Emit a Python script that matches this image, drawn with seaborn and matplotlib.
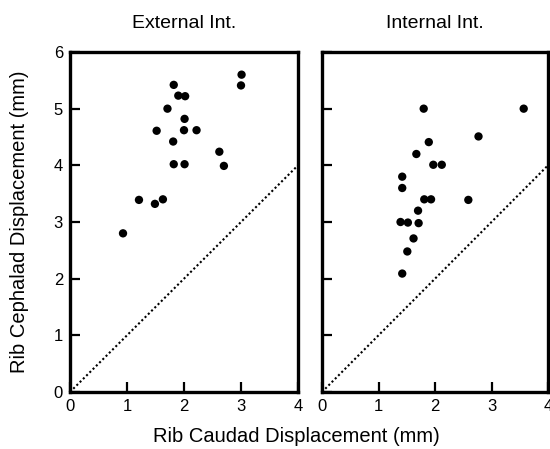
"""
Rib cephalad vs caudad displacement, external / internal intercostals
"""
import matplotlib
matplotlib.use("Agg")
import matplotlib.pyplot as plt
import seaborn as sns
import pandas as pd

# External intercostal points (mm)
ext_caudad = [0.93, 1.21, 1.49, 1.63, 1.52, 1.71, 1.82, 1.90, 2.02, 2.01,
              2.00, 2.22, 1.81, 1.82, 2.01, 2.62, 2.70, 3.01, 3.00]
ext_cephalad = [2.80, 3.39, 3.32, 3.40, 4.61, 5.00, 5.42, 5.23, 5.22, 4.82,
                4.62, 4.62, 4.42, 4.02, 4.02, 4.24, 3.99, 5.60, 5.41]

# Internal intercostal points (mm)
int_caudad = [1.80, 3.57, 2.77, 1.89, 1.67, 1.97, 2.12, 1.42, 1.42, 1.81,
              1.93, 2.59, 1.70, 1.39, 1.52, 1.71, 1.62, 1.51, 1.42]
int_cephalad = [5.00, 5.00, 4.51, 4.41, 4.20, 4.01, 4.01, 3.80, 3.60, 3.40,
                3.40, 3.39, 3.20, 3.00, 2.99, 2.98, 2.71, 2.48, 2.09]

# identity line
diag_x = [0, 4]
diag_y = [0, 4]

panel_titles = ["External Int.", "Internal Int."]
x_ticks = [0, 1, 2, 3, 4]
y_ticks = [0, 1, 2, 3, 4, 5, 6]

sns.set_style("ticks")
plt.rcParams['font.family'] = ['Liberation Sans', 'DejaVu Sans']
plt.rcParams['text.color'] = 'black'
plt.rcParams['xtick.color'] = 'black'
plt.rcParams['ytick.color'] = 'black'

fig = plt.figure(figsize=(5.5, 4.49), dpi=100)
ax_ext = fig.add_axes([70 / 550, 57 / 449, 228 / 550, 340 / 449])
ax_int = fig.add_axes([322 / 550, 57 / 449, 226 / 550, 340 / 449])

panels = [
    (ax_ext, pd.DataFrame({"caudad": ext_caudad, "cephalad": ext_cephalad})),
    (ax_int, pd.DataFrame({"caudad": int_caudad, "cephalad": int_cephalad})),
]

for i, (ax, df) in enumerate(panels):
    sns.lineplot(x=diag_x, y=diag_y, ax=ax, color="black",
                 linestyle=(0, (1, 1.2)), linewidth=1.5)
    sns.scatterplot(data=df, x="caudad", y="cephalad", ax=ax,
                    color="black", s=36, edgecolor="none", zorder=3)
    ax.set_xlim(0, 4)
    ax.set_ylim(0, 6)
    ax.set_xticks(x_ticks)
    ax.set_yticks(y_ticks)
    ax.tick_params(direction="in", length=7, width=1.6, labelsize=12,
                   pad=5, colors="black")
    ax.set_xlabel("")
    ax.set_ylabel("")
    for sp in ax.spines.values():
        sp.set_visible(True)
        sp.set_linewidth(2.4)
        sp.set_color("black")
    ax.set_title(panel_titles[i], fontsize=14, pad=17, color="black")
    if i == 1:
        ax.set_yticklabels([])

fig.text(20 / 550, 1 - 222 / 449, "Rib Cephalad Displacement (mm)",
         rotation=90, ha="center", va="center", fontsize=14.5, color="black")
fig.text(296 / 550, 1 - 437 / 449, "Rib Caudad Displacement (mm)",
         ha="center", va="center", fontsize=14.5, color="black")

fig.savefig("out.png", dpi=100)
